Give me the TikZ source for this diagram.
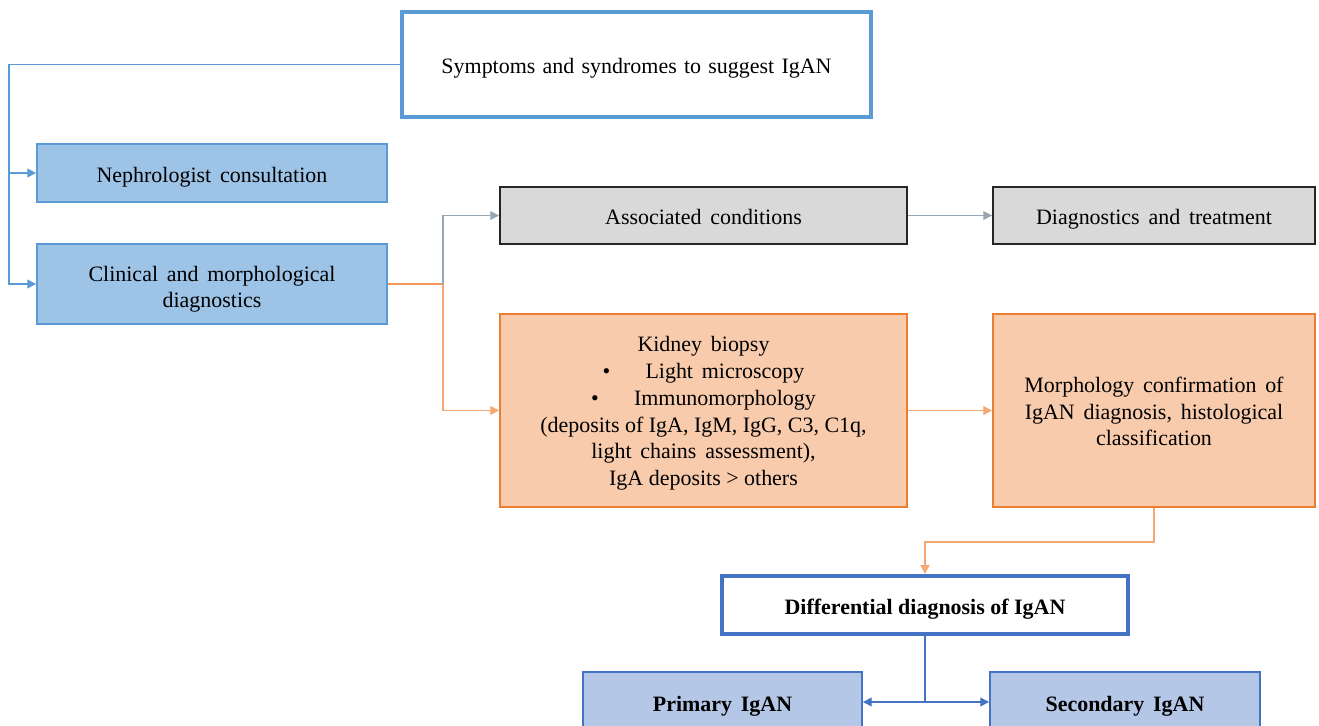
\documentclass[tikz,border=0pt]{standalone}
\usepackage{fontspec}
\setmainfont{Liberation Serif}
\usepackage{tikz}
\usetikzlibrary{arrows.meta}

\definecolor{lineblue}{HTML}{5B9BD5}
\definecolor{fillblue}{HTML}{9DC3E6}
\definecolor{darkblue}{HTML}{4472C4}
\definecolor{paleblue}{HTML}{B4C7E7}
\definecolor{fillgrey}{HTML}{D9D9D9}
\definecolor{linegrey}{HTML}{97A6B4}
\definecolor{lineorange}{HTML}{ED7D31}
\definecolor{softorange}{HTML}{F4A873}
\definecolor{fillorange}{HTML}{F8CBAD}

\newcommand{\boxfont}{\fontsize{12.5}{15.2}\selectfont\spaceskip=0.4em plus 0.1em minus 0.05em\relax}
\newcommand{\narrowsp}{\spaceskip=0.25em plus 0.1em minus 0.05em\relax}
\newcommand{\midsp}{\spaceskip=0.33em plus 0.1em minus 0.05em\relax}
\newcommand{\topstrut}[1]{\rule{0pt}{#1}}

\begin{document}
\begin{tikzpicture}[
  x=0.02cm, y=-0.02cm,
  box/.style={rectangle, inner sep=0pt, align=center, font=\boxfont},
  oneline/.style={text height=2.45ex, text depth=0.15ex},
  bluebox/.style={box, draw=lineblue, fill=fillblue, line width=1.1pt},
  greybox/.style={box, oneline, draw=black!85, fill=fillgrey, line width=1.1pt},
  orangebox/.style={box, draw=lineorange, fill=fillorange, line width=1.1pt},
  framebox/.style={box, oneline, fill=white, line width=2.3pt},
  palebox/.style={box, oneline, draw=darkblue, fill=paleblue, line width=1.1pt,
                  font=\boxfont\bfseries},
  arrow/.style={-{Triangle[length=5pt,width=5pt]}, line width=0.8pt}
]
%% frame of the page
\clip (0,0) rectangle (1319,726);
\fill[white] (0,0) rectangle (1319,726);

%% Left column
\node[framebox, draw=lineblue, minimum width=9.38cm, minimum height=2.1cm,
      font=\boxfont\midsp]
  at (636.5,64.5) (symp) {Symptoms and syndromes to suggest IgAN};
\node[bluebox, oneline, minimum width=7cm, minimum height=1.16cm]
  at (212,173) (neph) {Nephrologist consultation};
\node[bluebox, minimum width=7cm, minimum height=1.6cm]
  at (212,284) (clin) {\topstrut{14.5pt}Clinical and morphological\\diagnostics};

%% Middle and right columns
\node[greybox, minimum width=8.14cm, minimum height=1.14cm]
  at (703.5,215.5) (assoc) {Associated conditions};
\node[greybox, minimum width=6.44cm, minimum height=1.14cm]
  at (1154,215.5) (treat) {Diagnostics and treatment};
\node[orangebox, minimum width=8.14cm, minimum height=3.86cm]
  at (703.5,410.5) (biopsy) {\topstrut{12pt}Kidney biopsy\\
  \textbullet\hspace{1.6em}Light microscopy\\
  \textbullet\hspace{1.6em}Immunomorphology\\
  {\narrowsp (deposits of IgA, IgM, IgG, C3, C1q,}\\
  light chains assessment),\\
  {\narrowsp IgA deposits > others}};
\node[orangebox, minimum width=6.44cm, minimum height=3.86cm]
  at (1154,410.5) (morph) {\topstrut{10pt}Morphology confirmation of\\IgAN diagnosis, histological\\classification};

%% Bottom
\node[framebox, draw=darkblue, minimum width=8.12cm, minimum height=1.16cm,
      font=\boxfont\bfseries\narrowsp]
  at (925,605) (diff) {Differential diagnosis of IgAN};
\node[palebox, minimum width=5.58cm, minimum height=1.2cm]
  at (722.5,702) (prim) {Primary IgAN};
\node[palebox, minimum width=5.4cm, minimum height=1.2cm]
  at (1125,702) (sec) {Secondary IgAN};

%% Helper coordinates
\coordinate (lft) at (9,64.5);
\coordinate (split) at (443,284);
\coordinate (bend) at (925,542);
\coordinate (fork) at (925,702);

%% Connectors
\draw[lineblue, line width=0.8pt] (symp.west) -- (lft);
\draw[arrow, lineblue] (lft) |- (neph.west);
\draw[arrow, lineblue] (lft) |- (clin.west);
\draw[lineorange!80, line width=0.8pt] (clin.east) -- (split);
\draw[arrow, linegrey] (split) |- (assoc.west);
\draw[arrow, softorange] (split) |- (biopsy.west);
\draw[arrow, linegrey] (assoc) -- (treat);
\draw[arrow, softorange] (biopsy) -- (morph);
\draw[arrow, softorange] (morph.south) |- (bend) -- (diff.north);
\draw[darkblue, line width=0.8pt] (diff.south) -- (fork);
\draw[arrow, darkblue] (fork) -- (prim.east);
\draw[arrow, darkblue] (fork) -- (sec.west);
\end{tikzpicture}
\end{document}
